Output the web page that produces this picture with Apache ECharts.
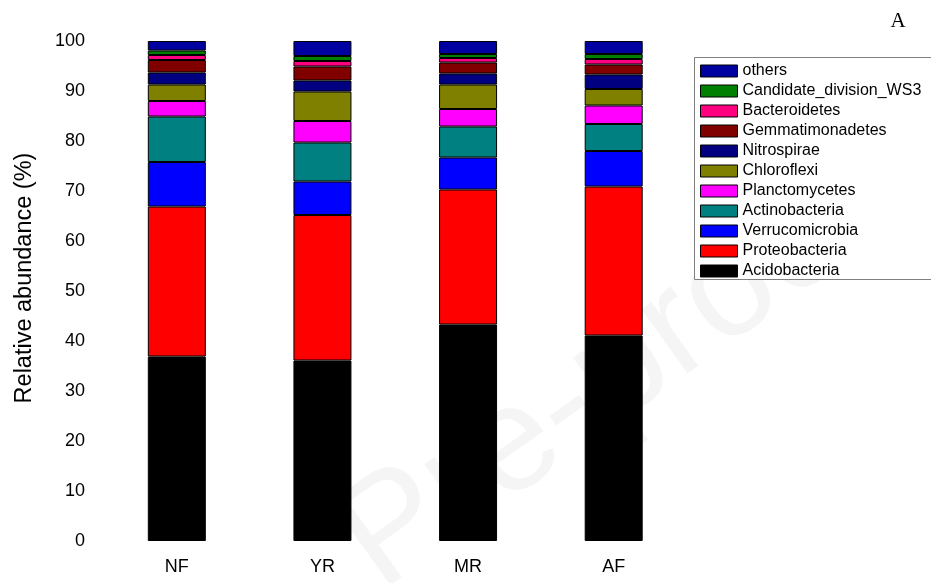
<!DOCTYPE html>
<html>
<head>
<meta charset="utf-8">
<script src="https://cdn.jsdelivr.net/npm/echarts@6/dist/echarts.min.js"></script>
<style>
  html, body { margin: 0; padding: 0; background: #fff; }
  #chart { width: 931px; height: 583px; }
</style>
</head>
<body>
<div id="chart"></div>
<script>
// Sample groups on the x axis
const sites = ['NF', 'YR', 'MR', 'AF'];

// Relative abundance (%) of each phylum per site, stacked bottom to top
const acidobacteria    = [36.9, 36.1, 43.3, 41.1];
const proteobacteria   = [30.0, 29.1, 27.0, 29.8];
const verrucomicrobia  = [8.9, 6.7, 6.4, 7.1];
const actinobacteria   = [9.1, 7.8, 6.2, 5.4];
const planctomycetes   = [3.1, 4.3, 3.5, 3.7];
const chloroflexi      = [3.3, 5.9, 4.9, 3.3];
const nitrospirae      = [2.4, 2.2, 2.2, 2.9];
const gemmatimonadetes = [2.5, 2.8, 2.2, 2.0];
const bacteroidetes    = [1.0, 1.1, 0.9, 1.1];
const candidateWS3     = [0.9, 1.0, 0.8, 1.0];
const others           = [1.9, 3.0, 2.6, 2.6];

const yTicks = [0, 10, 20, 30, 40, 50, 60, 70, 80, 90, 100];

const layers = [
  { name: 'Acidobacteria', data: acidobacteria, color: '#000000' },
  { name: 'Proteobacteria', data: proteobacteria, color: '#FF0000' },
  { name: 'Verrucomicrobia', data: verrucomicrobia, color: '#0000FF' },
  { name: 'Actinobacteria', data: actinobacteria, color: '#008080' },
  { name: 'Planctomycetes', data: planctomycetes, color: '#FF00FF' },
  { name: 'Chloroflexi', data: chloroflexi, color: '#808000' },
  { name: 'Nitrospirae', data: nitrospirae, color: '#000080' },
  { name: 'Gemmatimonadetes', data: gemmatimonadetes, color: '#800000' },
  { name: 'Bacteroidetes', data: bacteroidetes, color: '#FF0080' },
  { name: 'Candidate_division_WS3', data: candidateWS3, color: '#008000' },
  { name: 'others', data: others, color: '#0000A0' }
];

const font = 'Liberation Sans, Arial, sans-serif';
const chart = echarts.init(document.getElementById('chart'), null, { renderer: 'canvas' });

chart.setOption({
  backgroundColor: '#ffffff',
  animation: false,
  grid: { left: 104, right: 931 - 686.5, top: 41, bottom: 42, containLabel: false },
  xAxis: {
    type: 'category',
    data: sites,
    axisLine: { show: false },
    axisTick: { show: false },
    axisLabel: { color: '#000', fontFamily: font, fontSize: 18, margin: 17 },
    splitLine: { show: false }
  },
  yAxis: {
    type: 'value',
    min: yTicks[0],
    max: yTicks[yTicks.length - 1],
    interval: 10,
    name: 'Relative abundance (%)',
    nameLocation: 'middle',
    nameRotate: 90,
    nameGap: 67,
    nameTextStyle: { color: '#000', fontFamily: font, fontSize: 23.5, padding: [0, 0, 0, 26] },
    axisLine: { show: false },
    axisTick: { show: false },
    splitLine: { show: false },
    axisLabel: { color: '#000', fontFamily: font, fontSize: 18, margin: 19 }
  },
  legend: {
    orient: 'vertical',
    left: 700,
    top: 63,
    padding: 0,
    itemWidth: 37,
    itemHeight: 12,
    itemGap: 4,
    icon: 'rect',
    selectedMode: false,
    data: layers.map(l => l.name).reverse(),
    itemStyle: { borderColor: '#000', borderWidth: 1 },
    textStyle: { color: '#000', fontFamily: font, fontSize: 16, lineHeight: 15, padding: [0, 0, 0, 0] }
  },
  graphic: [
    {
      type: 'text',
      z: 0,
      silent: true,
      x: 400,
      y: 620,
      rotation: 0.62,
      style: {
        text: 'Pre-proof',
        fontFamily: font,
        fontSize: 150,
        fill: 'rgba(0,0,0,0.04)',
        textAlign: 'left',
        textVerticalAlign: 'bottom'
      }
    },
    {
      type: 'rect',
      z: 1,
      silent: true,
      shape: { x: 694.5, y: 57.5, width: 250, height: 222 },
      style: { fill: '#ffffff', stroke: '#808080', lineWidth: 1 }
    },
    {
      type: 'text',
      z: 1,
      silent: true,
      x: 898,
      y: 21,
      style: {
        text: 'A',
        fontFamily: 'Liberation Serif, Times New Roman, serif',
        fontSize: 21,
        fill: '#000',
        textAlign: 'center',
        textVerticalAlign: 'middle'
      }
    }
  ],
  series: layers.map(l => ({
    name: l.name,
    type: 'bar',
    stack: 'total',
    data: l.data,
    barWidth: 58,
    z: 3,
    itemStyle: { color: l.color, borderColor: '#000', borderWidth: 1 }
  }))
});
</script>
</body>
</html>
